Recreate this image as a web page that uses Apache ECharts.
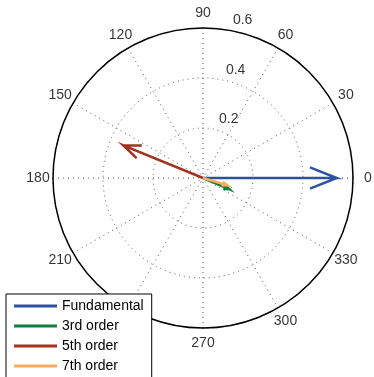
<!DOCTYPE html>
<html>
<head>
<meta charset="utf-8">
<script src="https://cdn.jsdelivr.net/npm/echarts@6/dist/echarts.min.js"></script>
<style>
  html, body { margin: 0; padding: 0; background: #fff; overflow: hidden; }
  #chart { width: 374px; height: 392px; }
</style>
</head>
<body>
<div id="chart"></div>
<script>
// phasor (compass) plot of harmonic components
const names = ["Fundamental", "3rd order", "5th order", "7th order"];
const magnitudes = [0.535, 0.115, 0.345, 0.10];
const phases = [0, 337, 157.7, 343.5];
const colors = ["#2f52a0", "#0f8040", "#a03420", "#fcaa5c"];
const angleTicks = [0, 30, 60, 90, 120, 150, 180, 210, 240, 270, 300, 330];
const radiusTicks = [0.2, 0.4, 0.6];

const FONT = "Liberation Sans";

// arrow shape like matlab compass: tip, then head back to 0.8 with +-0.08 side
function arrowPoints(r, th) {
  const hr = r * Math.sqrt(0.8 * 0.8 + 0.08 * 0.08);
  const da = Math.atan2(0.08, 0.8) * 180 / Math.PI;
  const norm = function (a) { return (a + 360) % 360; };
  return [
    [0, th],
    [r, th],
    [hr, norm(th + da)],
    [r, th],
    [hr, norm(th - da)]
  ];
}

const chart = echarts.init(document.getElementById("chart"));

const arrowSeries = names.map(function (n, i) {
  return {
    name: n,
    type: "line",
    coordinateSystem: "polar",
    polarIndex: 0,
    data: arrowPoints(magnitudes[i], phases[i]),
    showSymbol: false,
    symbol: "none",
    lineStyle: { color: colors[i], width: 2.5, join: "miter" },
    itemStyle: { color: colors[i] },
    z: 3 + i
  };
});

const hidden = { show: false };

chart.setOption({
  animation: false,
  polar: [
    { center: [203, 178], radius: 150 },
    // outer ring used only for placing the angle labels (1.1 x radius)
    { center: [203, 178], radius: 165 }
  ],
  angleAxis: [
    {
      polarIndex: 0,
      type: "value",
      min: 0,
      max: 360,
      interval: 30,
      startAngle: 0,
      clockwise: false,
      axisLine: { show: true, lineStyle: { color: "#000", width: 1.5 } },
      axisTick: hidden,
      axisLabel: hidden,
      splitLine: { show: true, lineStyle: { color: "#555", width: 1, type: [1, 4] } },
      z: 1
    },
    {
      polarIndex: 1,
      type: "value",
      min: 0,
      max: 360,
      startAngle: 0,
      clockwise: false,
      axisLine: hidden,
      axisTick: hidden,
      axisLabel: hidden,
      splitLine: hidden
    }
  ],
  radiusAxis: [
    {
      polarIndex: 0,
      type: "value",
      min: 0,
      max: 0.6,
      interval: 0.2,
      axisLine: hidden,
      axisTick: hidden,
      axisLabel: hidden,
      splitLine: { show: true, lineStyle: { color: "#555", width: 1, type: [1, 4] } },
      z: 0
    },
    {
      polarIndex: 1,
      type: "value",
      min: 0,
      max: 1,
      axisLine: hidden,
      axisTick: hidden,
      axisLabel: hidden,
      splitLine: hidden
    }
  ],
  legend: {
    orient: "vertical",
    left: 6,
    top: 294,
    padding: [2, 8, 6, 8],
    itemGap: 0,
    itemWidth: 43,
    itemHeight: 3,
    icon: "rect",
    backgroundColor: "#fff",
    borderColor: "#000",
    borderWidth: 1,
    borderRadius: 0,
    textStyle: { fontFamily: FONT, fontSize: 14, color: "#000", lineHeight: 20 },
    data: names
  },
  series: arrowSeries.concat([
    {
      type: "scatter",
      coordinateSystem: "polar",
      polarIndex: 1,
      silent: true,
      symbolSize: 0,
      data: angleTicks.map(function (a) { return [1, a]; }),
      label: {
        show: true,
        position: "inside",
        align: "center",
        verticalAlign: "middle",
        fontFamily: FONT,
        fontSize: 14,
        color: "#000",
        formatter: function (p) { return String(p.value[1]); }
      },
      z: 1
    },
    {
      type: "scatter",
      coordinateSystem: "polar",
      polarIndex: 0,
      silent: true,
      symbolSize: 0,
      data: radiusTicks.map(function (r) { return [r, 82]; }),
      label: {
        show: true,
        position: [9, -2],
        align: "left",
        verticalAlign: "bottom",
        fontFamily: FONT,
        fontSize: 14,
        color: "#000",
        formatter: function (p) { return String(p.value[0]); }
      },
      z: 1
    }
  ])
});
</script>
</body>
</html>
